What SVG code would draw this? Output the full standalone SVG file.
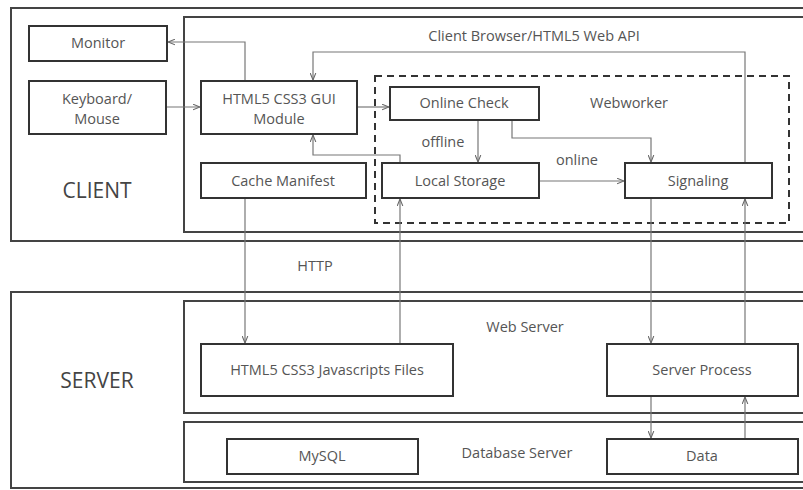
<svg xmlns="http://www.w3.org/2000/svg" width="803" height="490" viewBox="0 0 803 490">
<defs>
<marker id="ah" viewBox="0 0 10 10" refX="10" refY="5" markerWidth="7" markerHeight="7" orient="auto" markerUnits="userSpaceOnUse">
<path d="M0,1 L10,5 L0,9" fill="none" stroke="#666" stroke-width="1.5"/>
</marker>
<style>
.frame{fill:none;stroke:#444;stroke-width:2}
.box{fill:#fff;stroke:#333;stroke-width:2}
.dash{fill:none;stroke:#333;stroke-width:2;stroke-dasharray:7,5}
.c{fill:none;stroke:#777;stroke-width:1.2;marker-end:url(#ah)}
.t{font-family:"Open Sans","Liberation Sans",sans-serif;font-size:14.5px;fill:#555;text-anchor:middle}
.big{font-family:"Open Sans","Liberation Sans",sans-serif;font-size:21px;fill:#444;text-anchor:middle}
</style>
</defs>
<rect width="803" height="490" fill="#fff"/>
<g id="client-area">
<rect class="frame" x="11" y="8" width="800" height="233"/>
<rect class="frame" x="184" y="17" width="630" height="215"/>
<rect class="dash" x="375" y="76" width="414" height="147"/>
<text class="big" x="97" y="198">CLIENT</text>
<text class="t" x="534" y="41">Client Browser/HTML5 Web API</text>
<text class="t" x="629" y="108">Webworker</text>
</g>
<g id="server-area">
<rect class="frame" x="11" y="292" width="800" height="196"/>
<rect class="frame" x="184" y="301" width="630" height="112"/>
<rect class="frame" x="184" y="422" width="630" height="60"/>
<text class="big" x="97" y="388">SERVER</text>
<text class="t" x="525" y="332">Web Server</text>
<text class="t" x="517" y="458">Database Server</text>
</g>
<g id="connectors">
<path class="c" d="M245,81 V42 H168"/>
<path class="c" d="M166,107 H200"/>
<path class="c" d="M357,107 H389"/>
<path class="c" d="M745,163 V52 H313 V80"/>
<path class="c" d="M478,120 V162"/>
<path class="c" d="M512,120 V138 H651 V162"/>
<path class="c" d="M539,181 H624"/>
<path class="c" d="M400,163 V155 H313 V135"/>
<path class="c" d="M245,198 V343"/>
<path class="c" d="M400,344 V199"/>
<path class="c" d="M651,198 V343"/>
<path class="c" d="M745,344 V199"/>
<path class="c" d="M651,396 V438"/>
<path class="c" d="M745,439 V397"/>
<text class="t" x="443" y="147">offline</text>
<text class="t" x="577" y="165">online</text>
<text class="t" x="315" y="271">HTTP</text>
</g>
<g id="monitor"><rect class="box" x="29" y="26" width="138" height="35"/><text class="t" x="98" y="48">Monitor</text></g>
<g id="keyboard"><rect class="box" x="29" y="81" width="137" height="53"/><text class="t" x="97" y="104">Keyboard/</text><text class="t" x="97" y="124">Mouse</text></g>
<g id="gui"><rect class="box" x="201" y="81" width="156" height="53"/><text class="t" x="279" y="104">HTML5 CSS3 GUI</text><text class="t" x="279" y="124">Module</text></g>
<g id="cache"><rect class="box" x="201" y="163" width="165" height="35"/><text class="t" x="283" y="186">Cache Manifest</text></g>
<g id="online-check"><rect class="box" x="390" y="87" width="149" height="33"/><text class="t" x="464" y="108">Online Check</text></g>
<g id="local-storage"><rect class="box" x="382" y="163" width="157" height="35"/><text class="t" x="460" y="186">Local Storage</text></g>
<g id="signaling"><rect class="box" x="625" y="163" width="147" height="35"/><text class="t" x="698" y="186">Signaling</text></g>
<g id="html5-files"><rect class="box" x="201" y="344" width="252" height="52"/><text class="t" x="327" y="375">HTML5 CSS3 Javascripts Files</text></g>
<g id="server-process"><rect class="box" x="607" y="344" width="191" height="52"/><text class="t" x="702" y="375">Server Process</text></g>
<g id="mysql"><rect class="box" x="227" y="439" width="191" height="35"/><text class="t" x="322" y="461">MySQL</text></g>
<g id="data"><rect class="box" x="607" y="439" width="191" height="35"/><text class="t" x="702" y="461">Data</text></g>
</svg>
